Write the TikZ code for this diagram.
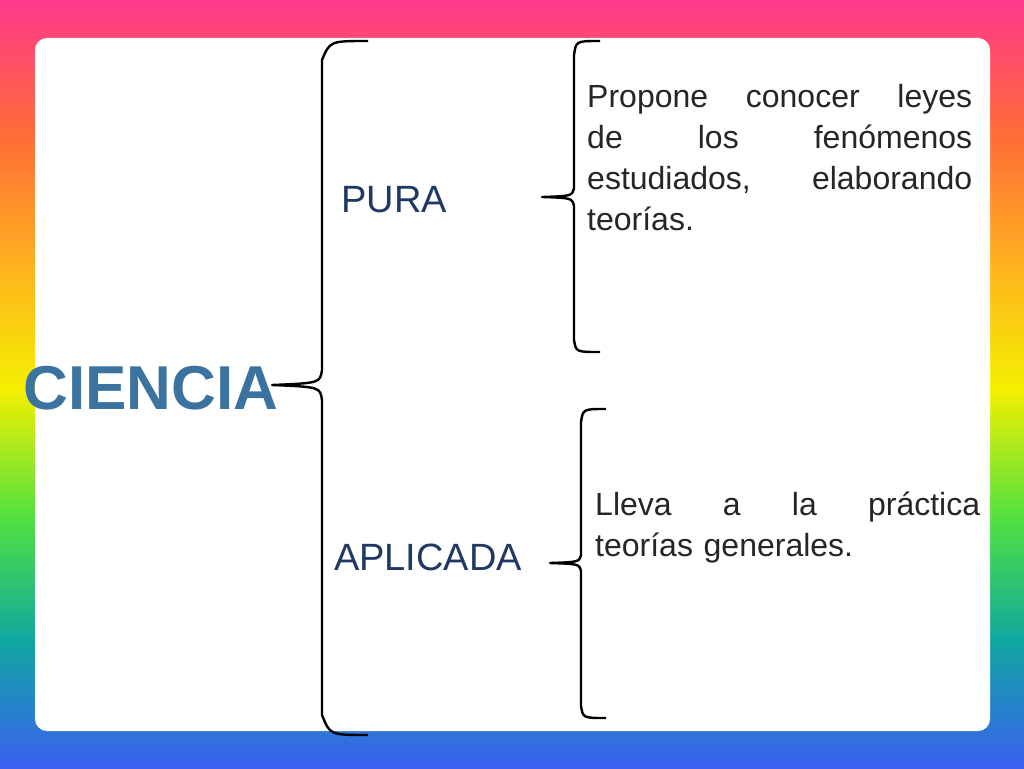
\documentclass[tikz,border=0pt]{standalone}
\usepackage{fontspec}
\setmainfont{Liberation Sans}
\definecolor{navy}{HTML}{1F3864}
\definecolor{steel}{HTML}{3A72A0}
\definecolor{c1}{HTML}{FF3A8C}
\definecolor{c2}{HTML}{FF6A3A}
\definecolor{c3}{HTML}{FFB020}
\definecolor{c4}{HTML}{F4F000}
\definecolor{c5}{HTML}{50E040}
\definecolor{c6}{HTML}{10A8A0}
\definecolor{c7}{HTML}{3A60F0}
\begin{document}
\begin{tikzpicture}[x=1pt,y=-1pt,
  brace/.style={line width=2.4pt,line join=round},
  para/.style={anchor=north west,align=left,text=black!85,font=\fontsize{32}{41}\selectfont},
  cat/.style={text=navy,font=\fontsize{38}{40}\selectfont}]
\useasboundingbox (0,0) rectangle (1024,768);
\shade[top color=c1,bottom color=c2] (0,0) rectangle (1024,130);
\shade[top color=c2,bottom color=c3] (0,129) rectangle (1024,260);
\shade[top color=c3,bottom color=c4] (0,259) rectangle (1024,390);
\shade[top color=c4,bottom color=c5] (0,389) rectangle (1024,520);
\shade[top color=c5,bottom color=c6] (0,519) rectangle (1024,640);
\shade[top color=c6,bottom color=c7] (0,639) rectangle (1024,768);
\fill[white,rounded corners=12] (35,38) rectangle (990,731);
% braces
\draw[brace] (368,41) .. controls (330,41) .. (322,60) -- (322,370) .. controls (320,383) .. (272,385) .. controls (320,387) .. (322,400) -- (322,715) .. controls (330,735) .. (368,735);
\draw[brace] (600,41) .. controls (576,41) .. (574,55) -- (574,188) .. controls (572,196) .. (542,197) .. controls (572,198) .. (574,206) -- (574,340) .. controls (576,352) .. (600,352);
\draw[brace] (606,409) .. controls (583,409) .. (581,422) -- (581,555) .. controls (579,562) .. (550,563) .. controls (579,564) .. (581,571) -- (581,706) .. controls (583,718) .. (606,718);
\node[font=\bfseries\fontsize{62}{62}\selectfont,text=steel] (c) at (151,388) {CIENCIA};
\node[cat] (pura) at (394,200) {PURA};
\node[cat] (apl) at (428,557) {APLICADA};
\node[para,text width=385,inner sep=0pt] (p1) at (587,84) {Propone\hfill conocer\hfill leyes\\ de\hfill los\hfill fenómenos\\ estudiados,\hfill elaborando\\ teorías.};
\node[para,text width=385,inner sep=0pt] (p2) at (595,492) {Lleva\hfill a\hfill la\hfill práctica\\ teorías generales.};
\end{tikzpicture}
\end{document}
